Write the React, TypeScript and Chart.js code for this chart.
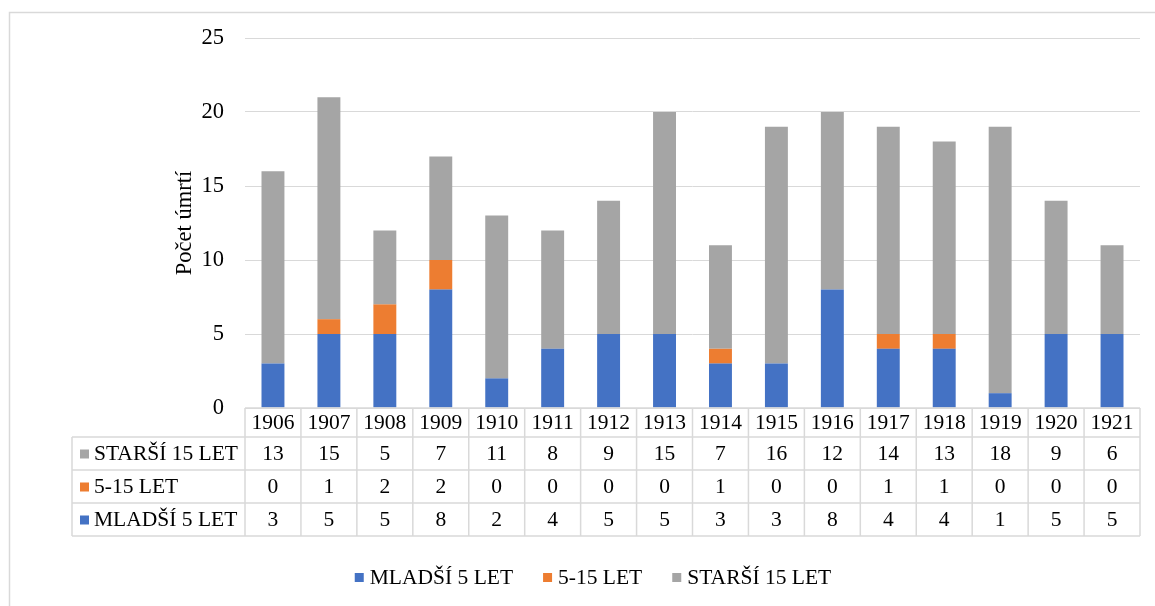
import React, { useEffect, useRef } from "react";
import { Chart, registerables } from "chart.js";

Chart.register(...registerables);

const years = ["1906","1907","1908","1909","1910","1911","1912","1913","1914","1915","1916","1917","1918","1919","1920","1921"];
const mladsi = [3,5,5,8,2,4,5,5,3,3,8,4,4,1,5,5];
const stredni = [0,1,2,2,0,0,0,0,1,0,0,1,1,0,0,0];
const starsi = [13,15,5,7,11,8,9,15,7,16,12,14,13,18,9,6];
const seriesNames = ["MLADŠÍ 5 LET", "5-15 LET", "STARŠÍ 15 LET"];
const seriesColors = ["#4472C4", "#ED7D31", "#A5A5A5"];
const yTicks = [0, 5, 10, 15, 20, 25];

const FONT = "'Liberation Serif', 'Times New Roman', serif";
const LINE = "#d9d9d9";

const tablePlugin = {
  id: "tablePlugin",
  beforeDraw(chart: any) {
    const ctx = chart.ctx;
    ctx.save();
    ctx.strokeStyle = LINE;
    ctx.lineWidth = 1.5;
    ctx.beginPath();
    ctx.moveTo(9.5, 606);
    ctx.lineTo(9.5, 12.5);
    ctx.lineTo(1155, 12.5);
    ctx.stroke();
    ctx.restore();
  },
  afterDraw(chart: any) {
    const ctx = chart.ctx;
    const xs = chart.scales.x;
    const { left, right } = chart.chartArea;
    const n = years.length;
    const colW = (right - left) / n;
    const labelLeft = 72;
    const rows = [408, 437, 470, 503, 536];
    ctx.save();
    ctx.strokeStyle = LINE;
    ctx.lineWidth = 1.5;
    ctx.beginPath();
    ctx.moveTo(left, rows[0]);
    ctx.lineTo(right, rows[0]);
    for (let r = 1; r < rows.length; r++) {
      ctx.moveTo(labelLeft, rows[r]);
      ctx.lineTo(right, rows[r]);
    }
    for (let i = 0; i <= n; i++) {
      const x = left + i * colW;
      ctx.moveTo(x, rows[0]);
      ctx.lineTo(x, rows[4]);
    }
    ctx.moveTo(labelLeft, rows[1]);
    ctx.lineTo(labelLeft, rows[4]);
    ctx.stroke();

    ctx.fillStyle = "#000";
    ctx.font = `21.5px ${FONT}`;
    ctx.textAlign = "center";
    ctx.textBaseline = "middle";
    years.forEach((y, i) => {
      const cx = xs.getPixelForValue(i);
      ctx.fillText(y, cx, (rows[0] + rows[1]) / 2 + 1);
    });
    const tableRows = [
      { name: seriesNames[2], color: seriesColors[2], vals: starsi },
      { name: seriesNames[1], color: seriesColors[1], vals: stredni },
      { name: seriesNames[0], color: seriesColors[0], vals: mladsi },
    ];
    tableRows.forEach((row, r) => {
      const cy = (rows[r + 1] + rows[r + 2]) / 2 + 1;
      ctx.fillStyle = row.color;
      ctx.fillRect(80, cy - 5, 9, 9);
      ctx.fillStyle = "#000";
      ctx.textAlign = "left";
      ctx.fillText(row.name, 94, cy);
      ctx.textAlign = "center";
      row.vals.forEach((v, i) => {
        ctx.fillText(String(v), xs.getPixelForValue(i), cy);
      });
    });

    ctx.font = `21.5px ${FONT}`;
    const box = 9, gapBox = 6, gapItem = 30;
    const widths = seriesNames.map((s) => ctx.measureText(s).width);
    const total = widths.reduce((a, w) => a + box + gapBox + w, 0) + gapItem * (seriesNames.length - 1);
    let x = 593 - total / 2;
    const ly = 578;
    seriesNames.forEach((s, i) => {
      ctx.fillStyle = seriesColors[i];
      ctx.fillRect(x, ly - 5, box, box);
      x += box + gapBox;
      ctx.fillStyle = "#000";
      ctx.textAlign = "left";
      ctx.fillText(s, x, ly);
      x += widths[i] + gapItem;
    });
    ctx.restore();
  },
};

export default function App() {
  const ref = useRef<HTMLCanvasElement>(null);
  useEffect(() => {
    if (!ref.current) return;
    const chart = new Chart(ref.current, {
      type: "bar",
      data: {
        labels: years,
        datasets: [
          { label: seriesNames[0], data: mladsi, backgroundColor: seriesColors[0] },
          { label: seriesNames[1], data: stredni, backgroundColor: seriesColors[1] },
          { label: seriesNames[2], data: starsi, backgroundColor: seriesColors[2] },
        ],
      },
      options: {
        animation: false,
        responsive: false,
        maintainAspectRatio: false,
        datasets: { bar: { categoryPercentage: 1, barPercentage: 0.41 } } as any,
        layout: { padding: { left: 172, right: 15, top: 38, bottom: 198 } },
        plugins: { legend: { display: false }, tooltip: { enabled: false } },
        scales: {
          x: { stacked: true, display: false },
          y: {
            stacked: true,
            min: 0,
            max: 25,
            afterFit: (s: any) => { s.width = 73; },
            afterBuildTicks: (s: any) => { s.ticks = yTicks.map((v) => ({ value: v })); },
            border: { display: false },
            grid: { color: LINE, lineWidth: 1, drawTicks: false },
            ticks: { padding: 21, color: "#000", font: { family: FONT, size: 22.5 } },
            title: {
              display: true,
              text: "Počet úmrtí",
              color: "#000",
              padding: 0,
              font: { family: FONT, size: 22.5 },
            },
          },
        },
      },
      plugins: [tablePlugin],
    });
    return () => chart.destroy();
  }, []);
  return (
    <div style={{ position: "fixed", left: 0, top: 0, width: 1155, height: 606, background: "#fff" }}>
      <canvas ref={ref} width={1155} height={606} style={{ width: 1155, height: 606 }} />
    </div>
  );
}
